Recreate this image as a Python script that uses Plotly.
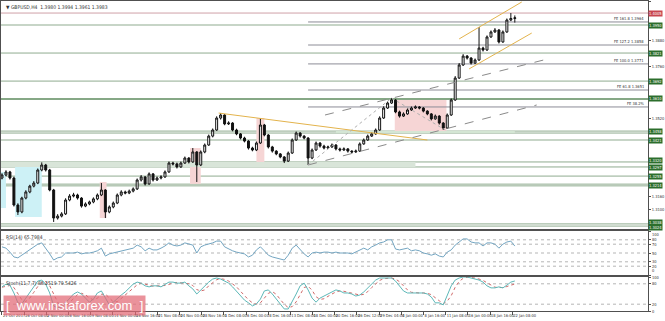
import plotly.graph_objects as go

# ---------------- data (GBPUSD H4) ----------------
opens = [
1.3246,1.3260,1.3274,1.3246,1.3122,1.3090,1.3154,1.3182,1.3209,1.3223,
1.3283,1.3306,1.3283,1.3191,1.3062,1.3071,1.3081,1.3145,1.3163,1.3168,
1.3154,1.3117,1.3127,1.3136,1.3150,1.3168,1.3191,1.3090,1.3113,1.3131,
1.3168,1.3182,1.3177,1.3186,1.3196,1.3237,1.3251,1.3219,1.3265,1.3237,
1.3246,1.3251,1.3274,1.3315,1.3311,1.3297,1.3315,1.3338,1.3320,1.3366,
1.3306,1.3366,1.3398,1.3439,1.3467,1.3522,1.3536,1.3495,1.3499,1.3467,
1.3449,1.3430,1.3416,1.3384,1.3375,1.3407,1.3490,1.3444,1.3389,1.3370,
1.3357,1.3343,1.3324,1.3361,1.3421,1.3453,1.3439,1.3430,1.3338,1.3375,
1.3407,1.3393,1.3384,1.3389,1.3398,1.3380,1.3375,1.3380,1.3370,1.3366,
1.3370,1.3403,1.3421,1.3439,1.3449,1.3467,1.3522,1.3568,1.3591,1.3605,
1.3550,1.3531,1.3541,1.3559,1.3568,1.3573,1.3568,1.3554,1.3541,1.3518,
1.3531,1.3499,1.3476,1.3536,1.3605,1.3706,1.3766,1.3807,1.3798,1.3775,
1.3789,1.3844,1.3835,1.3895,1.3918,1.3927,1.3872,1.3918,1.3973,1.3980]
highs = [
1.3268,1.3282,1.3279,1.3252,1.3130,1.3160,1.3190,1.3215,1.3232,1.3290,
1.3318,1.3311,1.3288,1.3196,1.3080,1.3089,1.3153,1.3172,1.3178,1.3174,
1.3158,1.3134,1.3142,1.3157,1.3175,1.3223,1.3195,1.3120,1.3138,1.3175,
1.3190,1.3188,1.3193,1.3203,1.3244,1.3260,1.3255,1.3272,1.3269,1.3253,
1.3259,1.3281,1.3322,1.3321,1.3317,1.3322,1.3345,1.3342,1.3384,1.3370,
1.3373,1.3405,1.3446,1.3474,1.3530,1.3545,1.3540,1.3507,1.3503,1.3473,
1.3453,1.3436,1.3420,1.3390,1.3414,1.3522,1.3495,1.3448,1.3394,1.3374,
1.3361,1.3347,1.3368,1.3428,1.3460,1.3457,1.3443,1.3434,1.3382,1.3414,
1.3411,1.3399,1.3395,1.3405,1.3402,1.3386,1.3387,1.3384,1.3374,1.3377,
1.3410,1.3428,1.3446,1.3456,1.3474,1.3530,1.3576,1.3598,1.3614,1.3609,
1.3556,1.3548,1.3566,1.3575,1.3580,1.3577,1.3572,1.3558,1.3545,1.3538,
1.3535,1.3503,1.3543,1.3612,1.3715,1.3775,1.3816,1.3812,1.3802,1.3796,
1.3941,1.3850,1.3902,1.3925,1.3936,1.3931,1.3925,1.3980,1.4005,1.3994]
lows = [
1.3240,1.3254,1.3239,1.3115,1.3076,1.3084,1.3148,1.3176,1.3203,1.3218,
1.3277,1.3276,1.3185,1.3044,1.3055,1.3065,1.3076,1.3139,1.3157,1.3147,
1.3110,1.3112,1.3121,1.3130,1.3144,1.3163,1.3062,1.3084,1.3107,1.3126,
1.3162,1.3171,1.3172,1.3180,1.3191,1.3230,1.3212,1.3215,1.3230,1.3233,
1.3240,1.3247,1.3270,1.3304,1.3290,1.3293,1.3311,1.3313,1.3316,1.3228,
1.3301,1.3360,1.3394,1.3433,1.3463,1.3515,1.3489,1.3490,1.3461,1.3443,
1.3424,1.3410,1.3377,1.3369,1.3370,1.3403,1.3438,1.3382,1.3363,1.3351,
1.3337,1.3315,1.3320,1.3357,1.3417,1.3432,1.3424,1.3306,1.3333,1.3371,
1.3386,1.3378,1.3380,1.3385,1.3373,1.3368,1.3371,1.3363,1.3359,1.3362,
1.3366,1.3399,1.3417,1.3435,1.3445,1.3463,1.3518,1.3564,1.3587,1.3544,
1.3524,1.3527,1.3537,1.3555,1.3564,1.3562,1.3548,1.3535,1.3511,1.3514,
1.3492,1.3467,1.3472,1.3532,1.3601,1.3702,1.3762,1.3791,1.3768,1.3771,
1.3785,1.3828,1.3831,1.3891,1.3914,1.3865,1.3868,1.3914,1.3968,1.3961]
closes = [
1.3260,1.3274,1.3246,1.3122,1.3090,1.3154,1.3182,1.3209,1.3223,1.3283,
1.3306,1.3283,1.3191,1.3062,1.3071,1.3081,1.3145,1.3163,1.3168,1.3154,
1.3117,1.3127,1.3136,1.3150,1.3168,1.3191,1.3090,1.3113,1.3131,1.3168,
1.3182,1.3177,1.3186,1.3196,1.3237,1.3251,1.3219,1.3265,1.3237,1.3246,
1.3251,1.3274,1.3315,1.3311,1.3297,1.3315,1.3338,1.3320,1.3366,1.3306,
1.3366,1.3398,1.3439,1.3467,1.3522,1.3536,1.3495,1.3499,1.3467,1.3449,
1.3430,1.3416,1.3384,1.3375,1.3407,1.3490,1.3444,1.3389,1.3370,1.3357,
1.3343,1.3324,1.3361,1.3421,1.3453,1.3439,1.3430,1.3338,1.3375,1.3407,
1.3393,1.3384,1.3389,1.3398,1.3380,1.3375,1.3380,1.3370,1.3366,1.3370,
1.3403,1.3421,1.3439,1.3449,1.3467,1.3522,1.3568,1.3591,1.3605,1.3550,
1.3531,1.3541,1.3559,1.3568,1.3573,1.3568,1.3554,1.3541,1.3518,1.3531,
1.3499,1.3476,1.3536,1.3605,1.3706,1.3766,1.3807,1.3798,1.3775,1.3789,
1.3844,1.3835,1.3895,1.3918,1.3927,1.3872,1.3918,1.3973,1.3980,1.3983]

rsi = [
64,61,52,41,39,45,52,59,64,70,
73,61,48,34,39,41,50,50,50,52,
48,50,50,52,55,61,43,48,50,52,
55,57,59,61,68,64,55,61,57,57,
61,66,73,68,66,68,73,70,68,50,
64,68,70,73,77,77,64,59,55,52,
50,48,41,45,57,64,55,45,41,39,
36,34,45,61,68,57,48,41,50,52,
50,52,52,50,52,50,50,50,48,52,
57,61,57,64,68,73,75,80,80,59,
57,59,61,55,57,55,50,48,45,48,
43,41,52,57,68,75,82,82,75,73,
73,66,73,73,70,61,70,75,77,65.7984]

stoch_k = [
71,79,76,53,24,21,38,56,71,88,
91,79,53,15,9,12,24,38,50,56,
50,38,26,35,53,59,38,18,26,38,
47,56,68,79,85,82,74,71,74,74,
71,79,85,85,82,82,85,74,65,50,
62,74,85,94,97,94,88,82,71,59,
44,32,24,15,21,35,59,62,50,35,
18,6,6,26,50,74,82,62,38,26,
38,44,50,56,62,59,53,53,50,44,
47,56,68,82,91,97,97,97,97,88,
74,59,53,53,53,53,53,50,41,24,
24,18,44,74,91,97,100,100,97,94,
91,85,74,68,68,71,68,76,85,88.2519]

stoch_d = [
70,72,75,69,51,33,28,38,55,72,
83,86,74,49,26,12,15,25,37,48,
52,48,38,33,38,49,50,38,27,27,
37,47,57,68,77,82,80,76,73,73,
73,75,78,83,84,83,83,80,75,63,
59,62,74,84,92,95,93,88,80,71,
58,45,33,24,20,24,38,52,57,49,
34,20,10,13,27,50,69,73,61,42,
34,36,44,50,56,59,58,55,52,49,
47,49,57,69,80,90,95,97,97,94,
86,74,62,55,53,53,53,52,48,38,
30,22,29,45,70,87,96,99,99,97,
94,90,83,76,70,69,69,72,76,79.5426]

time_labels = ["21 Oct 2017", "26 Oct 08:00", "2 Nov 00:00", "6 Nov 16:00", "9 Nov 08:00",
               "14 Nov 00:00", "16 Nov 16:00", "21 Nov 08:00", "24 Nov 00:00", "28 Nov 16:00",
               "1 Dec 08:00", "6 Dec 00:00", "8 Dec 16:00", "13 Dec 08:00", "18 Dec 00:00",
               "20 Dec 16:00", "26 Dec 12:00", "29 Dec 04:00", "4 Jan 00:00", "8 Jan 16:00",
               "11 Jan 08:00", "16 Jan 00:00", "18 Jan 16:00", "22 Jan 08:00"]

price_ticks = [1.3040, 1.3100, 1.3160, 1.3220, 1.3280, 1.3340, 1.3400, 1.3460, 1.3520,
               1.3580, 1.3640, 1.3700, 1.3760, 1.3820, 1.3880, 1.3940, 1.4000, 1.4060]
rsi_ticks = [0, 20, 30, 50, 70, 80, 100]
stoch_ticks = [0, 20, 80, 100]

support_levels = [1.3950, 1.3821, 1.3692, 1.3462, 1.3453, 1.3421, 1.3320, 1.3297,
                  1.3255, 1.3218, 1.3210, 1.3035, 1.3025]
strong_level = 1.3610
label_levels = [1.3950, 1.3821, 1.3692, 1.3610, 1.3458, 1.3421, 1.3320, 1.3297,
                1.3255, 1.3214]
double_label = (1.3038, 1.3024)
red_level = 1.4005

fe_names = ["FE 161.8 1.3964", "FE 127.2 1.3858", "FE 100.0 1.3771", "FE 61.8 1.3651", "FE 38.2%"]
fe_levels = [1.3964, 1.3858, 1.3771, 1.3651, 1.3573]
fe_anchor_bar = 77

# zones: (bar0, bar1, price0, price1, colour)
zones = [
    (-0.5, 1.0, 1.3108, 1.3274, "#cdf1f6"),
    (3.3, 10.0, 1.3067, 1.3315, "#cdf1f6"),
    (24.6, 26.3, 1.3062, 1.3228, "#f6d5d5"),
    (47.3, 50.0, 1.3219, 1.3384, "#f6d5d5"),
    (64.0, 66.0, 1.3320, 1.3522, "#f6d5d5"),
    (98.8, 111.8, 1.3458, 1.3605, "#f6d5d5"),
    (-0.5, 104.0, 1.3297, 1.3320, "#d9e5d9"),
    (84.0, 129.0, 1.3453, 1.3462, "#d4e6d4"),
]

# trend lines: (bar0, price0, bar1, price1, colour, dash)
trendlines = [
    (54.5, 1.3545, 107.0, 1.3421, "#e3b34c", "solid"),
    (115.0, 1.3886, 130.75, 1.4056, "#e3b34c", "solid"),
    (117.5, 1.3748, 133.25, 1.3913, "#e3b34c", "solid"),
    (77.0, 1.3306, 134.5, 1.3582, "#8a8a8a", "dash"),
    (81.25, 1.3536, 136.25, 1.3789, "#8a8a8a", "dash"),
    (77.0, 1.3306, 98.0, 1.3614, "#b0b0b0", "dot"),
    (98.0, 1.3614, 111.5, 1.3467, "#b0b0b0", "dot"),
]

# ---------------- figure ----------------
W, H = 665, 321


def paper_y(px):
    return 1 - px / H


bars = list(range(len(closes)))
label_step = 5.58
time_pos = [k * label_step for k in range(len(time_labels))]

# hide price tick labels that sit under a coloured level tag (as in the terminal)
tagged = label_levels + list(double_label) + [red_level]
shown_ticks = [v for v in price_ticks if all(abs(v - t) > 0.0033 for t in tagged)]

fig = go.Figure()
fig.add_trace(go.Candlestick(
    x=bars, open=opens, high=highs, low=lows, close=closes,
    increasing=dict(line=dict(color="#111111", width=1), fillcolor="#ffffff"),
    decreasing=dict(line=dict(color="#111111", width=1), fillcolor="#111111"),
    whiskerwidth=0, xaxis="x", yaxis="y", hoverinfo="skip"))

fig.add_trace(go.Scatter(x=bars, y=rsi, mode="lines", xaxis="x2", yaxis="y2",
                         line=dict(color="#74a6c2", width=1), hoverinfo="skip"))
fig.add_trace(go.Scatter(x=bars, y=stoch_d, mode="lines", xaxis="x3", yaxis="y3",
                         line=dict(color="#d06a6a", width=1, dash="dot"), hoverinfo="skip"))
fig.add_trace(go.Scatter(x=bars, y=stoch_k, mode="lines", xaxis="x3", yaxis="y3",
                         line=dict(color="#5db8b8", width=1), hoverinfo="skip"))

shapes = []
for b0, b1, p0, p1, col in zones:
    shapes.append(dict(type="rect", xref="x", yref="y", x0=b0, x1=b1, y0=p0, y1=p1,
                       fillcolor=col, line=dict(width=0), layer="below"))
for lv in support_levels:
    shapes.append(dict(type="line", xref="paper", yref="y", x0=0, x1=1, y0=lv, y1=lv,
                       line=dict(color="#8fab8f", width=1), layer="below"))
shapes.append(dict(type="line", xref="paper", yref="y", x0=0, x1=1, y0=strong_level, y1=strong_level,
                   line=dict(color="#86a886", width=2), layer="below"))
shapes.append(dict(type="line", xref="paper", yref="y", x0=0, x1=1, y0=red_level, y1=red_level,
                   line=dict(color="#cfa0a8", width=1), layer="below"))
for lv in fe_levels:
    shapes.append(dict(type="line", xref="x", yref="y", x0=fe_anchor_bar, x1=162.5, y0=lv, y1=lv,
                       line=dict(color="#8c8c96", width=1), layer="below"))
for b0, p0, b1, p1, col, dash in trendlines:
    shapes.append(dict(type="line", xref="x", yref="y", x0=b0, x1=b1, y0=p0, y1=p1,
                       line=dict(color=col, width=1, dash=dash)))
for lv in [20, 30, 50, 70, 80]:
    shapes.append(dict(type="line", xref="paper", yref="y2", x0=0, x1=1, y0=lv, y1=lv,
                       line=dict(color="#b5b5b5", width=1, dash="dot"), layer="below"))
for lv in [20, 80]:
    shapes.append(dict(type="line", xref="paper", yref="y3", x0=0, x1=1, y0=lv, y1=lv,
                       line=dict(color="#b5b5b5", width=1, dash="dot"), layer="below"))

FAM = "Liberation Sans Narrow, DejaVu Sans Condensed, Arial"
small = dict(family=FAM, size=5, color="#333333")
tiny = dict(family=FAM, size=4, color="#333333")
ann = []
ann.append(dict(xref="paper", yref="paper", x=0.004, y=paper_y(2), xanchor="left", yanchor="top",
                text="▼ GBPUSD,H4  1.3980 1.3994 1.3961 1.3983", showarrow=False, font=small))
ann.append(dict(xref="paper", yref="paper", x=0.004, y=paper_y(232), xanchor="left", yanchor="top",
                text="RSI(14) 65.7984", showarrow=False, font=small))
ann.append(dict(xref="paper", yref="paper", x=0.004, y=paper_y(278), xanchor="left", yanchor="top",
                text="Stoch(11,7,7) 88.2519 79.5426", showarrow=False, font=small))
for name, lv in zip(fe_names, fe_levels):
    ann.append(dict(xref="paper", yref="y", x=0.997, y=lv, xanchor="right", yanchor="bottom",
                    text=name, showarrow=False, font=tiny, yshift=-1))
tag_shift = {1.3320: 1, 1.3297: -1}
for lv in label_levels:
    ann.append(dict(xref="paper", yref="y", x=1.0, y=lv, xanchor="left", yanchor="middle",
                    text=f"{lv:.4f}", showarrow=False, bgcolor="#2c6e2c", borderpad=0,
                    yshift=tag_shift.get(lv, 0),
                    font=dict(family=FAM, size=4, color="white")))
ann.append(dict(xref="paper", yref="y", x=1.0, y=sum(double_label) / 2, xanchor="left", yanchor="middle",
                text=f"{double_label[0]:.4f}<br>{double_label[1]:.4f}", showarrow=False,
                bgcolor="#2c6e2c", borderpad=0, font=dict(family=FAM, size=4, color="white")))
ann.append(dict(xref="paper", yref="y", x=1.0, y=red_level, xanchor="left", yanchor="middle",
                text=f"{red_level:.4f}", showarrow=False, bgcolor="#c8464f", borderpad=0,
                font=dict(family=FAM, size=4, color="white")))
# indicator scale labels
rsi_anchor = {0: ("bottom", 1), 100: ("top", 0)}
for v in rsi_ticks:
    anc, sh = rsi_anchor.get(v, ("middle", 0))
    ann.append(dict(xref="paper", yref="y2", x=1.0, y=v, xanchor="left", yanchor=anc, yshift=sh,
                    xshift=3, text=str(v), showarrow=False, font=tiny, borderpad=0))
for v in stoch_ticks:
    ann.append(dict(xref="paper", yref="y3", x=1.0, y=v, xanchor="left", yanchor="middle",
                    xshift=3, text=str(v), showarrow=False, font=tiny, borderpad=0))
ann.append(dict(xref="paper", yref="paper", x=0.003, y=paper_y(316), xanchor="left", yanchor="bottom",
                text="[  www.instaforex.com  ]", showarrow=False, bgcolor="rgba(226,104,116,0.72)",
                borderpad=2, font=dict(family="Arial, Liberation Sans", size=13, color="white")))

axis_common = dict(showgrid=False, zeroline=False, showline=True, mirror=True,
                   linecolor="#505050", linewidth=1)

fig.update_layout(
    width=W, height=H, margin=dict(l=1, r=13, t=0, b=0),
    paper_bgcolor="white", plot_bgcolor="white", showlegend=False,
    shapes=shapes, annotations=ann,
    xaxis=dict(domain=[0, 1], range=[-0.25, 162.5], anchor="y", showticklabels=False,
               ticks="", rangeslider=dict(visible=False), **axis_common),
    yaxis=dict(domain=[paper_y(229), paper_y(1)], range=[1.30116, 1.40604], side="right",
               anchor="x", tickvals=shown_ticks, ticktext=[f"{v:.4f}" for v in shown_ticks],
               ticks="outside", ticklen=2, tickcolor="#505050", tickfont=tiny, **axis_common),
    xaxis2=dict(domain=[0, 1], matches="x", anchor="y2", showticklabels=False, ticks="", **axis_common),
    yaxis2=dict(domain=[paper_y(275), paper_y(231)], range=[0, 100], side="right", anchor="x2",
                tickvals=rsi_ticks, ticks="outside", ticklen=2, showticklabels=False,
                tickcolor="#505050", **axis_common),
    xaxis3=dict(domain=[0, 1], matches="x", anchor="y3", tickvals=time_pos, ticktext=time_labels,
                ticks="outside", ticklen=3, tickcolor="#505050", ticklabelposition="outside right",
                tickfont=tiny, tickangle=0, **axis_common),
    yaxis3=dict(domain=[paper_y(311), paper_y(277)], range=[0, 100], side="right", anchor="x3",
                tickvals=stoch_ticks, ticks="outside", ticklen=2, tickcolor="#505050",
                showticklabels=False, **axis_common),
)

fig.write_html("out.html")
